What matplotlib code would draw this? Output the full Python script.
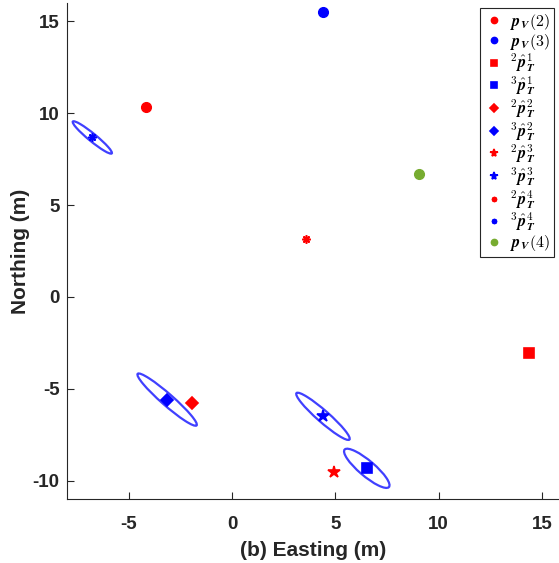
import matplotlib.pyplot as plt
from matplotlib.patches import Ellipse

plt.rcParams['font.family'] = ['Liberation Sans', 'DejaVu Sans']
plt.rcParams['mathtext.fontset'] = 'cm'
plt.rcParams['axes.unicode_minus'] = False

# vehicle positions
pv2 = (-4.15, 10.36)
pv3 = (4.4, 15.5)
pv4 = (9.03, 6.67)

# target estimates, seen from vehicle 2 and vehicle 3
est2_x = [14.35, -1.93, 4.93, 3.57]
est2_y = [-3.04, -5.75, -9.54, 3.15]
est3_x = [6.52, -3.14, 4.4, -6.76]
est3_y = [-9.33, -5.59, -6.5, 8.68]

# uncertainty ellipses round the vehicle 3 estimates: width, height, angle (data units)
ell_w = [2.96, 4.0, 3.6, 2.56]
ell_h = [0.8, 0.6, 0.6, 0.4]
ell_ang = [-44.0, -44.7, -44.8, -42.8]

markers = ['s', 'D', '*', (8, 2, 0)]
msizes = [7, 6, 9, 6]

fig = plt.figure(figsize=(5.59, 5.63), dpi=100)
ax = fig.add_axes([0.1193, 0.1137, 0.8807, 0.881])

for i in range(4):
    ax.add_patch(Ellipse((est3_x[i], est3_y[i]), ell_w[i], ell_h[i], angle=ell_ang[i],
                         fill=False, ec='#4040ff', lw=1.6))

ax.plot(*pv2, 'o', color='r', ms=7, ls='none', label=r'$\mathbfit{p}_{\mathbfit{V}}(2)$')
ax.plot(*pv3, 'o', color='b', ms=7, ls='none', label=r'$\mathbfit{p}_{\mathbfit{V}}(3)$')
for i in range(4):
    ax.plot(est2_x[i], est2_y[i], marker=markers[i], color='r', ms=msizes[i], ls='none',
            mew=1.2, label=r'${}^{2}\hat{\mathbfit{p}}{}_{\mathbfit{T}}^{%d}$' % (i + 1))
    ax.plot(est3_x[i], est3_y[i], marker=markers[i], color='b', ms=msizes[i], ls='none',
            mew=1.2, label=r'${}^{3}\hat{\mathbfit{p}}{}_{\mathbfit{T}}^{%d}$' % (i + 1))
ax.plot(*pv4, 'o', color='#77ac30', ms=7, ls='none', label=r'$\mathbfit{p}_{\mathbfit{V}}(4)$')

ax.set_xlim(-8, 15.82)
ax.set_ylim(-11, 16)
ax.set_xticks([-5, 0, 5, 10, 15])
ax.set_yticks([-10, -5, 0, 5, 10, 15])
ax.tick_params(direction='in', length=5, width=0.8, colors='#262626', labelsize=13.5)
ax.tick_params(axis='x', pad=12)
ax.tick_params(axis='y', pad=5)
for lab in ax.get_xticklabels() + ax.get_yticklabels():
    lab.set_fontweight('bold')
for s in ['top', 'right']:
    ax.spines[s].set_visible(False)
for s in ['left', 'bottom']:
    ax.spines[s].set_color('#262626')
    ax.spines[s].set_linewidth(0.8)

ax.set_xlabel('(b) Easting (m)', fontsize=15, fontweight='bold', color='#262626', labelpad=6)
ax.set_ylabel('Northing (m)', fontsize=15, fontweight='bold', color='#262626', labelpad=2)

leg = ax.legend(loc='upper right', fontsize=11.5, frameon=True, fancybox=False,
                edgecolor='#262626', framealpha=1, handlelength=1.2, handletextpad=0.45,
                borderpad=0.25, labelspacing=0.0, borderaxespad=0.3, numpoints=1,
                markerscale=0.65)
leg.get_frame().set_linewidth(0.8)

fig.savefig('out.png', dpi=100)
